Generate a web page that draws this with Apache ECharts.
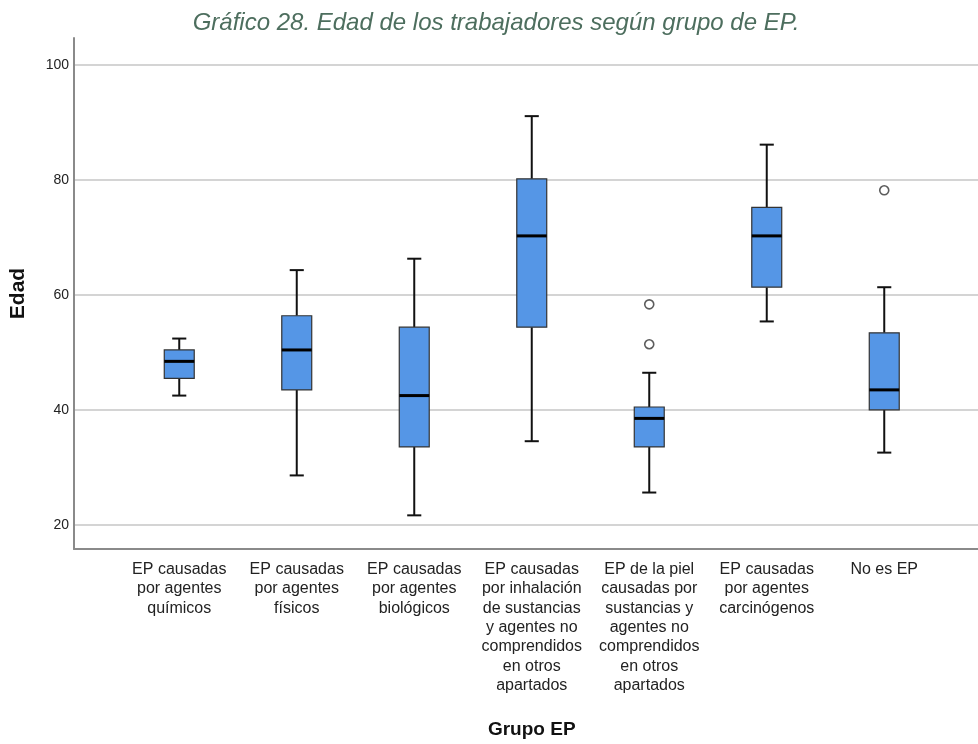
<!DOCTYPE html>
<html><head><meta charset="utf-8">
<script src="https://cdn.jsdelivr.net/npm/echarts@6/dist/echarts.min.js"></script>
<style>html,body{margin:0;padding:0;background:#fff}#c{width:978px;height:744px}</style>
</head><body><div id="c"></div>
<script>
const categories = [
  'EP causadas\npor agentes\nquímicos',
  'EP causadas\npor agentes\nfísicos',
  'EP causadas\npor agentes\nbiológicos',
  'EP causadas\npor inhalación\nde sustancias\ny agentes no\ncomprendidos\nen otros\napartados',
  'EP de la piel\ncausadas por\nsustancias y\nagentes no\ncomprendidos\nen otros\napartados',
  'EP causadas\npor agentes\ncarcinógenos',
  'No es EP'
];
// [min, Q1, median, Q3, max]
const whiskerLow = [42, 28, 21, 34, 25, 55, 32];
const q1 = [45, 43, 33, 54, 33, 61, 39.5];
const median = [48, 50, 42, 70, 38, 70, 43];
const q3 = [50, 56, 54, 80, 40, 75, 53];
const whiskerHigh = [52, 64, 66, 91, 46, 86, 61];
const outliers = [[4, 58], [4, 51], [6, 78]];
const yTicks = [20, 40, 60, 80, 100];

const boxData = categories.map((c, i) => [i, whiskerLow[i], q1[i], median[i], q3[i], whiskerHigh[i]]);

const FONT = '"Liberation Sans Narrow", "Liberation Sans", Arial, sans-serif';
const yMin = 15.8, yMax = 104.7;

function renderBox(params, api) {
  const x = api.value(0);
  const pLo = api.coord([x, api.value(1)]);
  const pQ1 = api.coord([x, api.value(2)]);
  const pMed = api.coord([x, api.value(3)]);
  const pQ3 = api.coord([x, api.value(4)]);
  const pHi = api.coord([x, api.value(5)]);
  const band = api.size([1, 0])[0];
  const bw = band * 0.255;
  const cw = band * 0.12;
  const cx = pMed[0];
  const wStyle = { stroke: '#111', lineWidth: 2 };
  return {
    type: 'group',
    children: [
      { type: 'line', shape: { x1: cx, y1: pHi[1], x2: cx, y2: pQ3[1] }, style: wStyle },
      { type: 'line', shape: { x1: cx, y1: pLo[1], x2: cx, y2: pQ1[1] }, style: wStyle },
      { type: 'line', shape: { x1: cx - cw / 2, y1: pHi[1], x2: cx + cw / 2, y2: pHi[1] }, style: wStyle },
      { type: 'line', shape: { x1: cx - cw / 2, y1: pLo[1], x2: cx + cw / 2, y2: pLo[1] }, style: wStyle },
      { type: 'rect', shape: { x: cx - bw / 2, y: pQ3[1], width: bw, height: pQ1[1] - pQ3[1] },
        style: { fill: '#5596e6', stroke: '#333', lineWidth: 1.2 } },
      { type: 'line', shape: { x1: cx - bw / 2, y1: pMed[1], x2: cx + bw / 2, y2: pMed[1] },
        style: { stroke: '#000', lineWidth: 3 } }
    ]
  };
}

const chart = echarts.init(document.getElementById('c'), null, { renderer: 'canvas' });
chart.setOption({
  animation: false,
  backgroundColor: '#fff',
  title: {
    text: 'Gráfico 28. Edad de los trabajadores según grupo de EP.',
    left: 491, top: 6, textAlign: 'center',
    textStyle: { fontFamily: '"Liberation Sans", Arial, sans-serif', fontStyle: 'italic', fontWeight: 'normal', fontSize: 24, color: '#4d6e5e' }
  },
  grid: [
    { left: 73, right: 0, top: 38, bottom: 195 },
    { left: 120.5, right: 35, top: 38, bottom: 195 }
  ],
  xAxis: [
    { gridIndex: 0, type: 'value', min: 0, max: 1, axisLine: { show: true, lineStyle: { color: '#8a8a8a', width: 2 } },
      axisTick: { show: false }, axisLabel: { show: false }, splitLine: { show: false } },
    { gridIndex: 1, type: 'category', data: categories, boundaryGap: true,
      axisLine: { show: false }, axisTick: { show: false }, splitLine: { show: false },
      axisLabel: { interval: 0, margin: 15, fontFamily: FONT, fontSize: 16, lineHeight: 19.3, color: '#222', align: 'center' },
      name: 'Grupo EP', nameLocation: 'middle', nameGap: 175,
      nameTextStyle: { fontFamily: FONT, fontWeight: 'bold', fontSize: 19, color: '#111' } }
  ],
  yAxis: [
    { gridIndex: 0, type: 'value', min: yMin, max: yMax,
      axisLine: { show: true, lineStyle: { color: '#8a8a8a', width: 2 } },
      axisTick: { show: false, customValues: yTicks },
      axisLabel: { customValues: yTicks, margin: 5, fontFamily: FONT, fontSize: 14, color: '#222' },
      splitLine: { show: true, lineStyle: { color: '#d4d4d4', width: 2 } },
      name: 'Edad', nameLocation: 'middle', nameGap: 45,
      nameTextStyle: { fontFamily: '"Liberation Sans", Arial, sans-serif', fontWeight: 'bold', fontSize: 21, color: '#111' } },
    { gridIndex: 1, type: 'value', min: yMin, max: yMax, show: false, splitLine: { show: false } }
  ],
  series: [
    { type: 'custom', xAxisIndex: 1, yAxisIndex: 1, data: boxData, renderItem: renderBox,
      encode: { x: 0, y: [1, 2, 3, 4, 5] }, z: 3 },
    { type: 'scatter', xAxisIndex: 1, yAxisIndex: 1, data: outliers, symbol: 'circle', symbolSize: 9,
      itemStyle: { color: '#fff', borderColor: '#333', borderWidth: 1.6 }, z: 4 }
  ]
});
</script></body></html>
